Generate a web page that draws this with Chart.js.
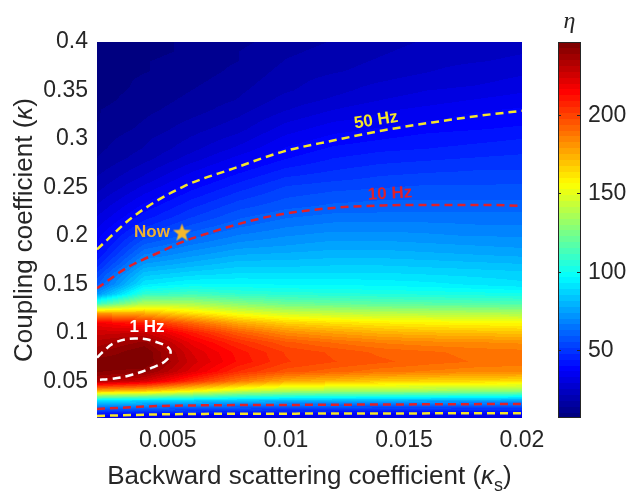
<!DOCTYPE html>
<html>
<head>
<meta charset="utf-8">
<script src="https://cdn.jsdelivr.net/npm/chart.js@4.4.0/dist/chart.umd.min.js"></script>
<style>
  html, body { margin: 0; padding: 0; background: #fff; }
</style>
</head>
<body>
<canvas id="chart" width="627" height="493"></canvas>
<script>
// eta map: columns are kappa_s, rows are kappa (top row = 0.40)
const kappaS = [0.002, 0.004, 0.006, 0.008, 0.010, 0.012, 0.014, 0.016, 0.018, 0.020];
const kappa = [0.40, 0.39, 0.38, 0.37, 0.36, 0.35, 0.34, 0.33, 0.32, 0.31,
               0.30, 0.29, 0.28, 0.27, 0.26, 0.25, 0.24, 0.23, 0.22, 0.21,
               0.20, 0.19, 0.18, 0.17, 0.16, 0.15, 0.14, 0.13, 0.12, 0.11,
               0.10, 0.09, 0.08, 0.07, 0.06, 0.05, 0.04, 0.03, 0.02, 0.01];
const eta = [
  [7, 9, 11, 13, 16, 18, 20, 22, 23, 24],
  [7, 9, 11, 14, 17, 19, 21, 23, 24, 25],
  [8, 10, 12, 14, 18, 20, 22, 24, 25, 26],
  [8, 10, 12, 15, 19, 21, 23, 25, 27, 28],
  [8, 11, 13, 16, 20, 23, 25, 27, 28, 30],
  [9, 11, 14, 17, 21, 24, 27, 29, 30, 32],
  [9, 12, 15, 18, 23, 26, 29, 31, 33, 35],
  [10, 13, 16, 20, 25, 29, 32, 34, 36, 37],
  [10, 14, 18, 22, 28, 32, 34, 36, 38, 39],
  [11, 15, 20, 24, 31, 35, 37, 39, 40, 41],
  [12, 17, 22, 27, 34, 38, 40, 42, 43, 44],
  [13, 18, 24, 30, 37, 41, 43, 44, 45, 46],
  [14, 20, 27, 34, 40, 44, 46, 47, 48, 49],
  [16, 23, 31, 38, 44, 47, 49, 50, 51, 51],
  [18, 26, 35, 42, 48, 50, 52, 53, 53, 54],
  [20, 30, 39, 46, 52, 54, 55, 56, 56, 56],
  [23, 34, 43, 50, 55, 57, 58, 58, 58, 58],
  [26, 38, 47, 54, 58, 60, 61, 61, 61, 61],
  [29, 42, 51, 58, 62, 64, 64, 64, 64, 64],
  [32, 47, 56, 62, 66, 68, 68, 68, 67, 67],
  [35, 53, 61, 67, 70, 72, 72, 71, 70, 70],
  [37, 60, 67, 72, 74, 76, 76, 75, 74, 73],
  [41, 67, 73, 78, 79, 80, 80, 79, 78, 77],
  [46, 75, 80, 84, 84, 85, 85, 84, 83, 82],
  [53, 84, 88, 90, 90, 90, 90, 89, 88, 87],
  [58, 92, 97, 97, 96, 96, 95, 94, 92, 90],
  [72, 108, 112, 108, 106, 105, 104, 103, 102, 101],
  [110, 138, 136, 128, 122, 120, 118, 117, 116, 115],
  [180, 175, 163, 152, 145, 142, 140, 139, 138, 137],
  [218, 208, 192, 176, 167, 163, 160, 158, 157, 156],
  [226, 228, 210, 194, 183, 178, 174, 172, 171, 170],
  [233, 240, 219, 205, 195, 190, 186, 184, 183, 182],
  [238, 247, 224, 211, 201, 197, 193, 191, 189, 188],
  [246, 247, 226, 212, 202, 198, 195, 192, 190, 189],
  [243, 241, 222, 205, 196, 192, 188, 186, 184, 183],
  [234, 225, 205, 188, 176, 172, 168, 166, 165, 164],
  [175, 170, 158, 145, 138, 136, 135, 134, 132, 130],
  [90, 88, 85, 82, 80, 79, 78, 77, 76, 75],
  [55, 54, 52, 50, 48, 47, 46, 46, 46, 46],
  [22, 22, 22, 23, 23, 24, 24, 24, 24, 24]
];

const xRange = [0.002, 0.02];
const yRange = [0.012, 0.4];
const etaRange = [6.5, 246.5];
const xTicks = [0.005, 0.01, 0.015, 0.02];
const xTickLabels = ['0.005', '0.01', '0.015', '0.02'];
const yTicks = [0.05, 0.1, 0.15, 0.2, 0.25, 0.3, 0.35, 0.4];
const yTickLabels = ['0.05', '0.1', '0.15', '0.2', '0.25', '0.3', '0.35', '0.4'];
const etaTicks = [50, 100, 150, 200];

// dashed contour lines (kappa_s, kappa)
const hz50UpperX = [0.002, 0.00352, 0.00564, 0.00776, 0.00988, 0.0120, 0.0141, 0.0162, 0.0183, 0.020];
const hz50UpperY = [0.186, 0.2195, 0.2506, 0.2693, 0.2869, 0.2983, 0.3087, 0.3170, 0.3242, 0.3290];
const hz50LowerX = [0.002, 0.00475, 0.0104, 0.020];
const hz50LowerY = [0.0141, 0.0158, 0.0165, 0.0169];
const hz10UpperX = [0.002, 0.00331, 0.00475, 0.0056, 0.00687, 0.00848, 0.00988, 0.0120, 0.0141, 0.0162, 0.0183, 0.020];
const hz10UpperY = [0.1458, 0.1676, 0.1842, 0.1935, 0.2039, 0.2153, 0.2226, 0.2288, 0.2314, 0.2319, 0.2319, 0.2309];
const hz10LowerX = [0.002, 0.00475, 0.0104, 0.020];
const hz10LowerY = [0.0213, 0.0244, 0.0255, 0.0265];
const hz1X = [0.002, 0.00221, 0.00276, 0.00361, 0.00446, 0.00509, 0.00496, 0.00433, 0.00348, 0.00264, 0.002];
const hz1Y = [0.0742, 0.0794, 0.0898, 0.0940, 0.0908, 0.0825, 0.0722, 0.0639, 0.0566, 0.0525, 0.0514];

const nowPoint = [0.0056, 0.2039];

const notes = [
  { text: '50 Hz', x: 0.01382, y: 0.3191, color: '#f5e62a', rot: -9 },
  { text: '10 Hz', x: 0.01441, y: 0.2433, color: '#e0202a', rot: -3 },
  { text: '1 Hz', x: 0.00412, y: 0.1054, color: '#ffffff', rot: 0 },
  { text: 'Now', x: 0.00433, y: 0.2039, color: '#f0b232', rot: 0 }
];

const FONT = "'Liberation Sans', Arial, sans-serif";
const INK = '#262626';

function pts(xs, ys) { return xs.map((v, i) => ({ x: v, y: ys[i] })); }

function bracket(arr, v) {
  const asc = arr[arr.length - 1] > arr[0];
  for (let i = 0; i < arr.length - 1; i++) {
    const a = arr[i], b = arr[i + 1];
    if ((asc && v <= b) || (!asc && v >= b)) {
      return [i, Math.min(1, Math.max(0, (v - a) / (b - a)))];
    }
  }
  return [arr.length - 2, 1];
}

// matlab jet, 64 levels
function jet(t) {
  t = Math.max(0, Math.min(1, t));
  const u = Math.min(63, Math.floor(t * 64)) / 63;
  const f = c => Math.round(255 * Math.max(0, Math.min(1, 1.5 - Math.abs(4 * u - c))));
  return [f(3), f(2), f(1)];
}

function makeStar(size, color) {
  const c = document.createElement('canvas');
  c.width = c.height = size;
  const g = c.getContext('2d');
  g.fillStyle = color;
  g.beginPath();
  for (let i = 0; i < 10; i++) {
    const r = i % 2 ? size * 0.21 : size * 0.5;
    const a = -Math.PI / 2 + i * Math.PI / 5;
    g.lineTo(size / 2 + r * Math.cos(a), size / 2 + r * Math.sin(a) + size * 0.05);
  }
  g.closePath();
  g.fill();
  return c;
}

const heatmap = {
  id: 'heatmap',
  beforeDatasetsDraw(chart) {
    const { ctx, chartArea: a, scales: { x, y } } = chart;
    const w = Math.round(a.right - a.left), h = Math.round(a.bottom - a.top);
    const img = ctx.createImageData(w, h);
    const span = etaRange[1] - etaRange[0];
    const cols = [];
    for (let i = 0; i < w; i++) cols.push(bracket(kappaS, x.getValueForPixel(a.left + i + 0.5)));
    for (let j = 0; j < h; j++) {
      const [r, fr] = bracket(kappa, y.getValueForPixel(a.top + j + 0.5));
      const r0 = eta[r], r1 = eta[r + 1];
      for (let i = 0; i < w; i++) {
        const [c, fc] = cols[i];
        const top = r0[c] + (r0[c + 1] - r0[c]) * fc;
        const bot = r1[c] + (r1[c + 1] - r1[c]) * fc;
        const v = top + (bot - top) * fr;
        const [R, G, B] = jet((v - etaRange[0]) / span);
        const k = (j * w + i) * 4;
        img.data[k] = R; img.data[k + 1] = G; img.data[k + 2] = B; img.data[k + 3] = 255;
      }
    }
    ctx.putImageData(img, Math.round(a.left), Math.round(a.top));
  }
};

const decorations = {
  id: 'decorations',
  afterDatasetsDraw(chart) {
    const { ctx, scales: { x, y } } = chart;
    ctx.save();
    ctx.font = `bold 17px ${FONT}`;
    ctx.textAlign = 'center';
    ctx.textBaseline = 'middle';
    notes.forEach(n => {
      ctx.save();
      ctx.translate(x.getPixelForValue(n.x), y.getPixelForValue(n.y));
      ctx.rotate(n.rot * Math.PI / 180);
      ctx.fillStyle = n.color;
      ctx.fillText(n.text, 0, 0);
      ctx.restore();
    });
    ctx.restore();
  },
  afterDraw(chart) {
    const { ctx, chartArea: a, scales: { cb } } = chart;
    ctx.save();
    // colorbar
    const bx = a.right + 36, bw = 23;
    const span = etaRange[1] - etaRange[0];
    for (let lv = 0; lv < 64; lv++) {
      const v0 = etaRange[0] + lv / 64 * span, v1 = etaRange[0] + (lv + 1) / 64 * span;
      const y0 = cb.getPixelForValue(v1), y1 = cb.getPixelForValue(v0);
      const [R, G, B] = jet((lv + 0.5) / 64);
      ctx.fillStyle = `rgb(${R},${G},${B})`;
      ctx.fillRect(bx, Math.floor(y0), bw, Math.ceil(y1) - Math.floor(y0));
    }
    ctx.strokeStyle = INK;
    ctx.lineWidth = 1;
    ctx.strokeRect(bx + 0.5, cb.top + 0.5, bw - 1, cb.bottom - cb.top - 1);
    ctx.fillStyle = INK;
    ctx.font = `23px ${FONT}`;
    ctx.textAlign = 'left';
    ctx.textBaseline = 'middle';
    etaTicks.forEach(t => {
      const py = Math.round(cb.getPixelForValue(t)) + 0.5;
      ctx.beginPath();
      ctx.moveTo(bx + bw - 1, py); ctx.lineTo(bx + bw - 4, py);
      ctx.moveTo(bx, py); ctx.lineTo(bx + 3, py);
      ctx.stroke();
      ctx.fillText(String(t), bx + bw + 7, py);
    });
    // colorbar title
    ctx.font = `italic 24px 'Liberation Serif', serif`;
    ctx.textAlign = 'center';
    ctx.textBaseline = 'alphabetic';
    ctx.fillText('\u03B7', bx + bw / 2, 28);

    // x axis title with italic kappa and subscript s
    const base = `26px ${FONT}`, ital = `italic 26px ${FONT}`, sub = `18px ${FONT}`;
    const partsX = [['Backward scattering coefficient (', base, 0], ['\u03BA', ital, 0], ['s', sub, 7], [')', base, 0]];
    drawParts(ctx, partsX, (a.left + a.right) / 2, 484);

    // y axis title, rotated
    ctx.save();
    ctx.translate(23, (a.top + a.bottom) / 2);
    ctx.rotate(-Math.PI / 2);
    const partsY = [['Coupling coefficient (', base, 0], ['\u03BA', ital, 0], [')', base, 0]];
    drawParts(ctx, partsY, 0, 9);
    ctx.restore();
    ctx.restore();
  }
};

function drawParts(ctx, parts, cx, baseY) {
  let total = 0;
  parts.forEach(p => { ctx.font = p[1]; total += ctx.measureText(p[0]).width; });
  let px = cx - total / 2;
  ctx.textAlign = 'left';
  ctx.textBaseline = 'alphabetic';
  ctx.fillStyle = INK;
  parts.forEach(p => {
    ctx.font = p[1];
    ctx.fillText(p[0], px, baseY + p[2]);
    px += ctx.measureText(p[0]).width;
  });
}

function contour(xs, ys, color, closed) {
  return {
    data: pts(xs, ys),
    showLine: true,
    borderColor: color,
    borderWidth: 2.5,
    borderDash: [8, 5],
    pointRadius: 0,
    tension: closed ? 0.4 : 0,
    cubicInterpolationMode: closed ? 'default' : 'monotone',
    fill: false
  };
}

new Chart(document.getElementById('chart').getContext('2d'), {
  type: 'scatter',
  data: {
    datasets: [
      contour(hz50UpperX, hz50UpperY, '#f5e62a'),
      contour(hz50LowerX, hz50LowerY, '#f5e62a'),
      contour(hz10UpperX, hz10UpperY, '#e0202a'),
      contour(hz10LowerX, hz10LowerY, '#e0202a'),
      contour(hz1X, hz1Y, '#ffffff', true),
      {
        data: [{ x: nowPoint[0], y: nowPoint[1] }],
        pointStyle: makeStar(19, '#f5b82e'),
        pointRadius: 9
      }
    ]
  },
  options: {
    responsive: false,
    animation: false,
    devicePixelRatio: 1,
    layout: { padding: { left: 0, right: 0, top: 42, bottom: 0 } },
    plugins: { legend: { display: false }, tooltip: { enabled: false } },
    scales: {
      x: {
        type: 'linear', min: xRange[0], max: xRange[1],
        afterBuildTicks: s => { s.ticks = xTicks.map(v => ({ value: v })); },
        afterFit: s => { s.height = 75; },
        ticks: { callback: (v, i) => xTickLabels[i], padding: 9, maxRotation: 0, autoSkip: false,
                 color: INK, font: { family: FONT, size: 23 } },
        grid: { display: false, drawTicks: false },
        border: { display: false }
      },
      y: {
        type: 'linear', min: yRange[0], max: yRange[1],
        afterBuildTicks: s => { s.ticks = yTicks.map(v => ({ value: v })); },
        afterFit: s => { s.width = 97; },
        ticks: { callback: (v, i) => yTickLabels[i], padding: 9, autoSkip: false,
                 color: INK, font: { family: FONT, size: 23 } },
        grid: { display: false, drawTicks: false },
        border: { display: false }
      },
      cb: {
        type: 'linear', position: 'right', min: etaRange[0], max: etaRange[1],
        afterBuildTicks: s => { s.ticks = etaTicks.map(v => ({ value: v })); },
        afterFit: s => { s.width = 105; },
        ticks: { display: false },
        grid: { display: false, drawTicks: false },
        border: { display: false }
      }
    }
  },
  plugins: [heatmap, decorations]
});
</script>
</body>
</html>
